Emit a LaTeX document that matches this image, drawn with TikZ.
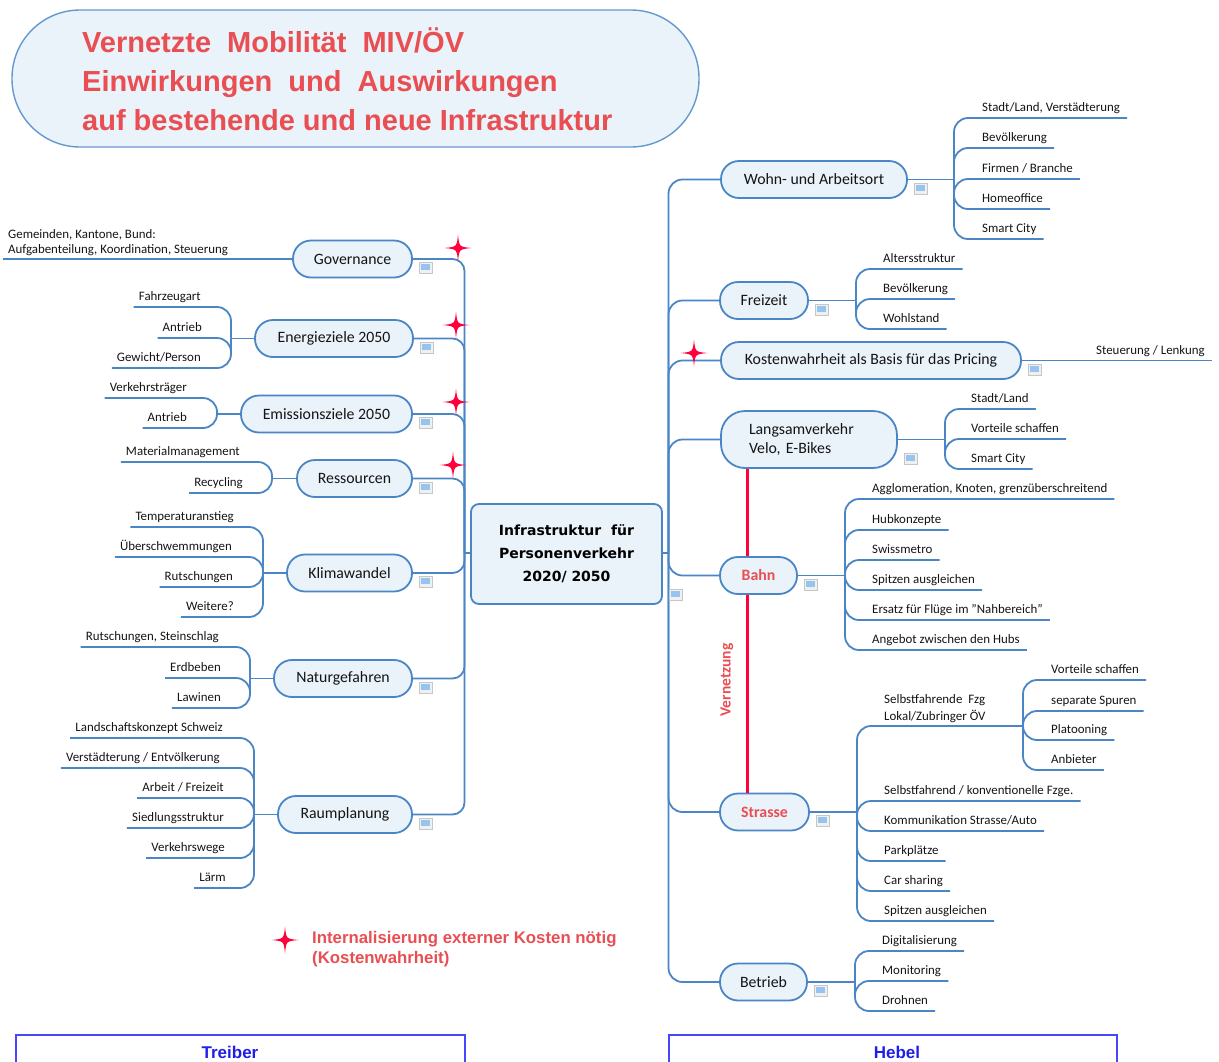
\documentclass[tikz,border=0pt]{standalone}
\usepackage{fontspec}
\setmainfont{Carlito}
\newfontfamily\arialf{Liberation Sans}
\newfontfamily\dejaf{DejaVu Sans}
\usetikzlibrary{calc}

\definecolor{lineblue}{RGB}{74,134,198}
\definecolor{nodefill}{RGB}{234,242,250}
\definecolor{titlered}{RGB}{232,78,82}
\definecolor{starred}{RGB}{255,0,60}
\definecolor{boxblue}{RGB}{70,70,250}
\definecolor{boxtext}{RGB}{30,30,235}
\definecolor{iconblue}{RGB}{150,196,240}
\definecolor{txt}{RGB}{20,20,20}

\tikzset{
  conn/.style={draw=lineblue, line width=1.8pt, rounded corners=14pt},
  topic/.style={draw=lineblue, fill=nodefill, line width=1.8pt, rounded corners=18pt,
     minimum height=37pt, inner sep=0pt, text=txt, font=\fontsize{15.8}{19}\selectfont},
  redtopic/.style={text=titlered, font=\fontsize{15.8}{19}\selectfont\bfseries},
  leafbase/.style={inner xsep=1pt, text=txt, font=\fontsize{12.9}{15}\selectfont},
  leafR/.style={leafbase, anchor=south west, inner ysep=2pt, text height=9pt, text depth=4pt},
  leafL/.style={leafR, anchor=south east},
  redline/.style={draw=starred, line width=3pt},
  boxline/.style={draw=boxblue, line width=1.3pt},
  redstar/.pic={\fill[starred] (0,-13.5) .. controls (1.2,-1.2) .. (13.5,0)
     .. controls (1.2,1.2) .. (0,13.5) .. controls (-1.2,1.2) .. (-13.5,0)
     .. controls (-1.2,-1.2) .. cycle;}
}
\newcommand{\noteicon}[1]{%
  \filldraw[fill=gray!12, draw=gray!45, line width=0.8pt] ($(#1.south east)+(6.5,-16)$) rectangle ++(13,11);
  \fill[iconblue] ($(#1.south east)+(8.5,-14)$) rectangle ++(9,6);}

\begin{document}
\begin{tikzpicture}[x=1pt,y=-1pt]
\useasboundingbox (0,0) rectangle (1219,1061);

% ---------- title ----------
\node[draw=lineblue!85, fill=nodefill, line width=1.4pt, rounded corners=68pt,
      minimum width=687pt, minimum height=137pt, inner sep=0pt] (titlebox) at (355.5,78.5) {};
\begin{scope}[every node/.style={anchor=base west, inner sep=0pt, text=titlered,
      font=\arialf\bfseries\fontsize{29}{35}\selectfont}]
\node (t1) at (82,52) {Vernetzte\ \ Mobilität\ \ MIV/ÖV};
\node (t2) at (82,91) {Einwirkungen\ \ und\ \ Auswirkungen};
\node (t3) at (82,130) {auf bestehende und neue Infrastruktur};
\end{scope}

% ---------- central ----------
\node[draw=lineblue, fill=nodefill, line width=1.8pt, rounded corners=8pt,
      minimum width=191pt, minimum height=100pt, inner sep=0pt, align=center,
      font=\dejaf\bfseries\fontsize{14}{23}\selectfont, text=black] (center) at (566.5,554)
      {Infrastruktur\ \ für\\Personenverkehr\\2020/ 2050};
\coordinate (jL) at (464.5,553);
\coordinate (jR) at (668.5,553);
\draw[conn] (center.west |- jL) -- (jL);
\draw[conn] (center.east |- jR) -- (jR);

% ---------- left topics ----------
\node[topic, minimum width=119pt] (gov)   at (352.5,259)   {Governance};
\node[topic, minimum width=158pt] (energ) at (334,338.5)   {Energieziele 2050};
\node[topic, minimum width=171pt] (emis)  at (326.5,414)   {Emissionsziele 2050};
\node[topic, minimum width=115pt] (ress)  at (354.5,478.5) {Ressourcen};
\node[topic, minimum width=125pt] (klima) at (349.5,573)   {Klimawandel};
\node[topic, minimum width=138pt] (natur) at (343,678.5)   {Naturgefahren};
\node[topic, minimum width=134pt] (raum)  at (345,814.5)   {Raumplanung};
\foreach \n in {gov,energ,emis,ress,klima,natur,raum}{\draw[conn, rounded corners=12pt] (\n.east) -| (jL);}

% ---------- right topics ----------
\node[topic, minimum width=186pt] (wohn)   at (814,179.5) {Wohn- und Arbeitsort};
\node[topic, minimum width=88pt]  (frei)   at (764,300.5) {Freizeit};
\node[topic, minimum width=300pt] (kosten) at (871,360.5) {Kostenwahrheit als Basis für das Pricing};
\node[topic, minimum width=176pt, minimum height=57pt, rounded corners=24pt, text width=120pt,
      align=left, font=\fontsize{15.8}{19.5}\selectfont] (langsam) at (809,439.5) {Langsamverkehr\\Velo, E-Bikes};
\node[topic, redtopic, minimum width=77pt] (bahn)    at (758.5,575.5) {Bahn};
\node[topic, redtopic, minimum width=89pt] (strasse) at (764.5,812)   {Strasse};
\node[topic, minimum width=87pt] (betrieb) at (763.5,982) {Betrieb};
\foreach \n in {wohn,frei,kosten,langsam,bahn,strasse,betrieb}{\draw[conn] (jR) |- (\n.west);}

% Vernetzung
\coordinate (vx) at (747,0);
\draw[redline] (langsam.south -| vx) -- (bahn.north -| vx);
\draw[redline] (bahn.south -| vx) -- (strasse.north -| vx);
\node[rotate=90, text=titlered, font=\fontsize{15.5}{18}\selectfont\bfseries] (vern) at (727,680) {Vernetzung};

% note icons
\foreach \n in {gov,energ,emis,ress,klima,natur,raum,center,wohn,frei,kosten,langsam,bahn,strasse,betrieb}{\noteicon{\n}}

% stars
\pic at (458,248) {redstar};
\pic at (456,325) {redstar};
\pic at (456,402) {redstar};
\pic at (453,465) {redstar};
\pic at (694,353) {redstar};
\pic at (285,940) {redstar};

% ---------- left leaves ----------
% Governance
\node[leafbase, anchor=south west, inner ysep=3.2pt, align=left,
      font=\fontsize{12.9}{14.5}\selectfont] (gl) at (7,259)
      {Gemeinden, Kantone, Bund:\\Aufgabenteilung, Koordination, Steuerung};
\draw[conn] (gov.west) -- ($(gl.south west)+(-4,0)$);

% Energieziele
\coordinate (ej) at (231,338.5);
\draw[conn] (energ.west) -- (ej);
\node[leafL] (e1) at (202,307) {Fahrzeugart};
\node[leafL] (e2) at (203,338) {Antrieb};
\node[leafL] (e3) at (202,368) {Gewicht/Person};
\foreach \n in {e1,e2,e3}{\draw[conn] (ej) |- ($(\n.south west)+(-4,0)$);}

% Emissionsziele
\coordinate (mj) at (217,414);
\draw[conn] (emis.west) -- (mj);
\node[leafL] (m1) at (188,398) {Verkehrsträger};
\node[leafL] (m2) at (188,428) {Antrieb};
\foreach \n in {m1,m2}{\draw[conn] (mj) |- ($(\n.south west)+(-4,0)$);}

% Ressourcen
\coordinate (rj) at (272,478.5);
\draw[conn] (ress.west) -- (rj);
\node[leafL] (r1) at (241,462) {Materialmanagement};
\node[leafL] (r2) at (244,493) {Recycling};
\foreach \n in {r1,r2}{\draw[conn] (rj) |- ($(\n.south west)+(-4,0)$);}

% Klimawandel
\coordinate (kj) at (263,573);
\draw[conn] (klima.west) -- (kj);
\node[leafL] (c1) at (235,527) {Temperaturanstieg};
\node[leafL] (c2) at (233,557) {Überschwemmungen};
\node[leafL] (c3) at (234,587) {Rutschungen};
\node[leafL] (c4) at (235,617) {Weitere?};
\foreach \n in {c1,c2,c3,c4}{\draw[conn] (kj) |- ($(\n.south west)+(-4,0)$);}

% Naturgefahren
\coordinate (nj) at (250,678.5);
\draw[conn] (natur.west) -- (nj);
\node[leafL] (n1) at (220,647) {Rutschungen, Steinschlag};
\node[leafL] (n2) at (222,678) {Erdbeben};
\node[leafL] (n3) at (222,708) {Lawinen};
\foreach \n in {n1,n2,n3}{\draw[conn] (nj) |- ($(\n.south west)+(-4,0)$);}

% Raumplanung
\coordinate (pj) at (254,814.5);
\draw[conn] (raum.west) -- (pj);
\node[leafL] (p1) at (224,738) {Landschaftskonzept Schweiz};
\node[leafL] (p2) at (221,768) {Verstädterung / Entvölkerung};
\node[leafL] (p3) at (225,798) {Arbeit / Freizeit};
\node[leafL] (p4) at (225,828) {Siedlungsstruktur};
\node[leafL] (p5) at (226,858) {Verkehrswege};
\node[leafL] (p6) at (227,888) {Lärm};
\foreach \n in {p1,p2,p3,p4,p5,p6}{\draw[conn] (pj) |- ($(\n.south west)+(-4,0)$);}

% ---------- right leaves ----------
% Wohn
\coordinate (wj) at (954,179.5);
\draw[conn] (wohn.east) -- (wj);
\node[leafR] (w1) at (981,118) {Stadt/Land, Verstädterung};
\node[leafR] (w2) at (981,148) {Bevölkerung};
\node[leafR] (w3) at (981,179) {Firmen / Branche};
\node[leafR] (w4) at (981,209) {Homeoffice};
\node[leafR] (w5) at (981,239) {Smart City};
\foreach \n in {w1,w2,w3,w4,w5}{\draw[conn] (wj) |- ($(\n.south east)+(6,0)$);}

% Freizeit
\coordinate (fj) at (856,300.5);
\draw[conn] (frei.east) -- (fj);
\node[leafR] (f1) at (882,269) {Altersstruktur};
\node[leafR] (f2) at (882,299) {Bevölkerung};
\node[leafR] (f3) at (882,329) {Wohlstand};
\foreach \n in {f1,f2,f3}{\draw[conn] (fj) |- ($(\n.south east)+(6,0)$);}

% Kostenwahrheit
\node[leafR] (k1) at (1095,360.5) {Steuerung / Lenkung};
\draw[conn] (kosten.east) -- ($(k1.south east)+(6,0)$);

% Langsamverkehr
\coordinate (lj) at (945,439.5);
\draw[conn] (langsam.east) -- (lj);
\node[leafR] (l1) at (970,409) {Stadt/Land};
\node[leafR] (l2) at (970,439) {Vorteile schaffen};
\node[leafR] (l3) at (970,469) {Smart City};
\foreach \n in {l1,l2,l3}{\draw[conn] (lj) |- ($(\n.south east)+(6,0)$);}

% Bahn
\coordinate (bj) at (845,575.5);
\draw[conn] (bahn.east) -- (bj);
\node[leafR] (b1) at (871,499) {Agglomeration, Knoten, grenzüberschreitend};
\node[leafR] (b2) at (871,530) {Hubkonzepte};
\node[leafR] (b3) at (871,560) {Swissmetro};
\node[leafR] (b4) at (871,590) {Spitzen ausgleichen};
\node[leafR] (b5) at (871,620) {Ersatz für Flüge im "Nahbereich"};
\node[leafR] (b6) at (871,650) {Angebot zwischen den Hubs};
\foreach \n in {b1,b2,b3,b4,b5,b6}{\draw[conn] (bj) |- ($(\n.south east)+(6,0)$);}

% Strasse
\coordinate (sj) at (857,812);
\coordinate (sj2) at (1023,726);
\draw[conn] (strasse.east) -- (sj);
\node[leafbase, anchor=south west, inner ysep=3.2pt, align=left,
      font=\fontsize{12.9}{17}\selectfont] (s0) at (883,726) {Selbstfahrende\ \ Fzg\\Lokal/Zubringer ÖV};
\draw[conn] (sj) |- (sj2);
\node[leafR] (u1) at (1050,680) {Vorteile schaffen};
\node[leafR] (u2) at (1050,711) {separate Spuren};
\node[leafR] (u3) at (1050,740) {Platooning};
\node[leafR] (u4) at (1050,770) {Anbieter};
\foreach \n in {u1,u2,u3,u4}{\draw[conn] (sj2) |- ($(\n.south east)+(6,0)$);}
\node[leafR] (s1) at (883,801) {Selbstfahrend / konventionelle Fzge.};
\node[leafR] (s2) at (883,831) {Kommunikation Strasse/Auto};
\node[leafR] (s3) at (883,861) {Parkplätze};
\node[leafR] (s4) at (883,891) {Car sharing};
\node[leafR] (s5) at (883,921) {Spitzen ausgleichen};
\foreach \n in {s1,s2,s3,s4,s5}{\draw[conn] (sj) |- ($(\n.south east)+(6,0)$);}

% Betrieb
\coordinate (tj) at (855,982);
\draw[conn] (betrieb.east) -- (tj);
\node[leafR] (d1) at (881,951) {Digitalisierung};
\node[leafR] (d2) at (881,981) {Monitoring};
\node[leafR] (d3) at (881,1011) {Drohnen};
\foreach \n in {d1,d2,d3}{\draw[conn] (tj) |- ($(\n.south east)+(6,0)$);}

% ---------- legend ----------
\begin{scope}[every node/.style={anchor=base west, inner sep=0pt, text=titlered,
      font=\arialf\bfseries\fontsize{16.8}{20}\selectfont}]
\node (leg1) at (312,943) {Internalisierung externer Kosten nötig};
\node (leg2) at (312,963) {(Kostenwahrheit)};
\end{scope}

% ---------- bottom boxes ----------
\draw[boxline] (16,1063) |- (465,1035) -- (465,1063);
\draw[boxline] (669,1063) |- (1117,1035) -- (1117,1063);
\node[text=boxtext, font=\arialf\bfseries\fontsize{17}{20}\selectfont, anchor=base] (treiber) at (230,1058) {Treiber};
\node[text=boxtext, font=\arialf\bfseries\fontsize{17}{20}\selectfont, anchor=base] (hebel) at (897,1058) {Hebel};
\end{tikzpicture}
\end{document}
